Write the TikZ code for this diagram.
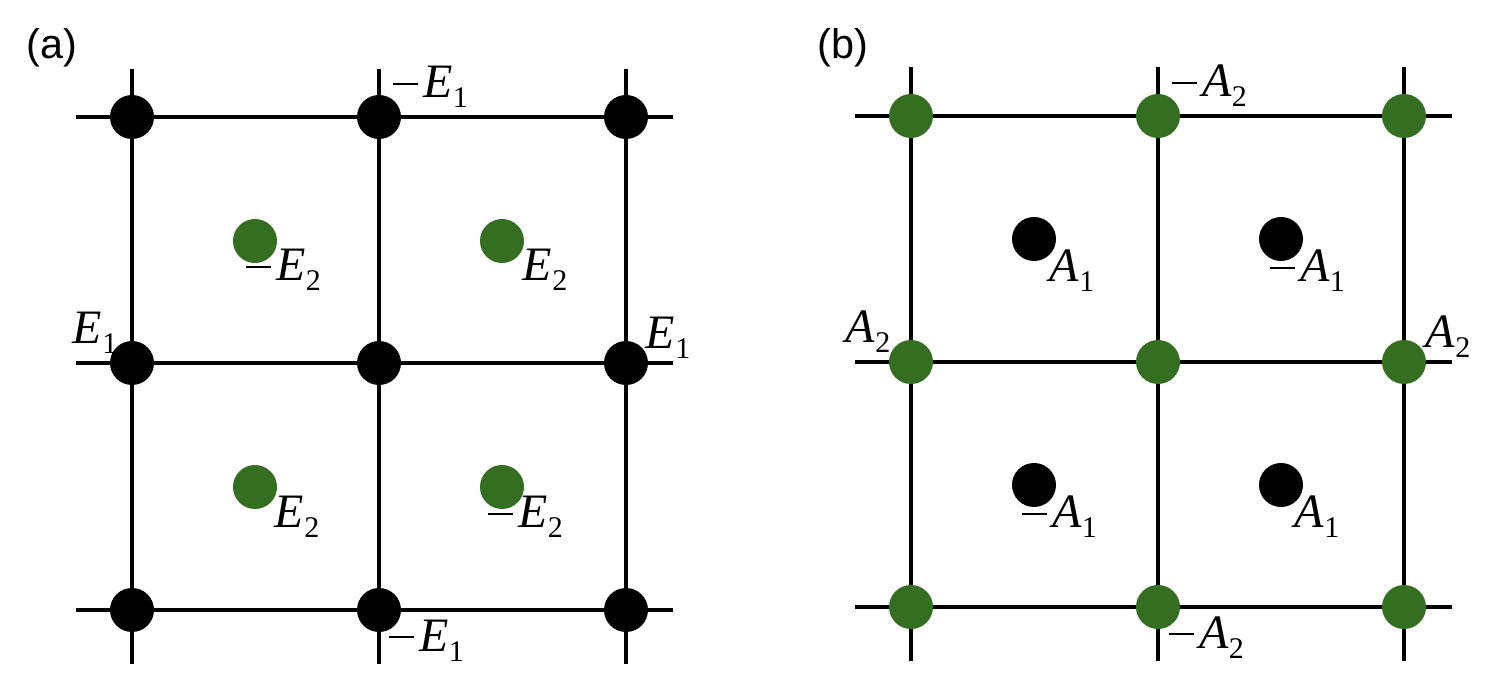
\documentclass[tikz,border=0pt]{standalone}
\usepackage{fontspec}
\setmainfont{Liberation Serif}
\newfontfamily\labsans{Liberation Sans}
\definecolor{dotgreen}{RGB}{51,110,33}
\newcommand\mn{\rule[6.3pt]{12.5pt}{1.3pt}\hspace{2.3pt}}
\newcommand\lb[3]{#1{\itshape #2}\hspace{0.3pt}\raisebox{-5pt}{\fontsize{15}{16}\selectfont #3}}
\tikzset{
  gridline/.style={line width=1.65pt},
  bdot/.style={circle, fill=black, minimum size=22pt, inner sep=0pt},
  gdot/.style={circle, fill=dotgreen, minimum size=22pt, inner sep=0pt},
  lab/.style={anchor=base west, inner sep=0pt, font=\fontsize{24}{28}\selectfont},
  plab/.style={anchor=base west, inner sep=0pt, font=\labsans\fontsize{20.7}{25}\selectfont}
}
\begin{document}
\begin{tikzpicture}[x=0.5pt,y=-0.5pt]
\useasboundingbox (0,0) rectangle (1498,694);
% ---------- panel (a) ----------
\node[plab] (pa) at (26,59) {(a)};
\foreach \x [count=\i] in {132,379,626} {
  \coordinate (avt\i) at (\x,69); \coordinate (avb\i) at (\x,664);
  \draw[gridline] (avt\i) -- (avb\i);
}
\foreach \y [count=\j] in {117,363,610} {
  \coordinate (ahl\j) at (76,\y); \coordinate (ahr\j) at (673,\y);
  \draw[gridline] (ahl\j) -- (ahr\j);
}
\foreach \x [count=\i] in {132,379,626} {
  \foreach \y [count=\j] in {117,363,610} {
    \node[bdot] (a\i\j) at (\x,\y) {};
  }
}
\node[gdot] (ag11) at (255,241) {};
\node[gdot] (ag21) at (502,241) {};
\node[gdot] (ag12) at (255,487) {};
\node[gdot] (ag22) at (502,487) {};
\node[lab] (la1) at (393,98) {\lb{\mn}{E}{1}};
\node[lab] (la2) at (72,344) {\lb{}{E}{1}};
\node[lab] (la3) at (645,349) {\lb{}{E}{1}};
\node[lab] (la4) at (389,651) {\lb{\mn}{E}{1}};
\node[lab] (la5) at (246,281) {\lb{\mn}{E}{2}};
\node[lab] (la6) at (522,281) {\lb{}{E}{2}};
\node[lab] (la7) at (274,528) {\lb{}{E}{2}};
\node[lab] (la8) at (488,528) {\lb{\mn}{E}{2}};
% ---------- panel (b) ----------
\node[plab] (pb) at (817,59) {(b)};
\foreach \x [count=\i] in {911,1158,1404} {
  \coordinate (bvt\i) at (\x,67); \coordinate (bvb\i) at (\x,661);
  \draw[gridline] (bvt\i) -- (bvb\i);
}
\foreach \y [count=\j] in {116,362,607} {
  \coordinate (bhl\j) at (855,\y); \coordinate (bhr\j) at (1452,\y);
  \draw[gridline] (bhl\j) -- (bhr\j);
}
\foreach \x [count=\i] in {911,1158,1404} {
  \foreach \y [count=\j] in {116,362,607} {
    \node[gdot] (b\i\j) at (\x,\y) {};
  }
}
\node[bdot] (bb11) at (1034,239) {};
\node[bdot] (bb21) at (1281,239) {};
\node[bdot] (bb12) at (1034,485) {};
\node[bdot] (bb22) at (1281,485) {};
\node[lab] (lb1) at (1172,97) {\lb{\mn}{A}{2}};
\node[lab] (lb2) at (845,343) {\lb{}{A}{2}};
\node[lab] (lb3) at (1425,348) {\lb{}{A}{2}};
\node[lab] (lb4) at (1169,648) {\lb{\mn}{A}{2}};
\node[lab] (lb5) at (1049,282) {\lb{}{A}{1}};
\node[lab] (lb6) at (1270,282) {\lb{\mn}{A}{1}};
\node[lab] (lb7) at (1022,528) {\lb{\mn}{A}{1}};
\node[lab] (lb8) at (1294,528) {\lb{}{A}{1}};
\end{tikzpicture}
\end{document}
